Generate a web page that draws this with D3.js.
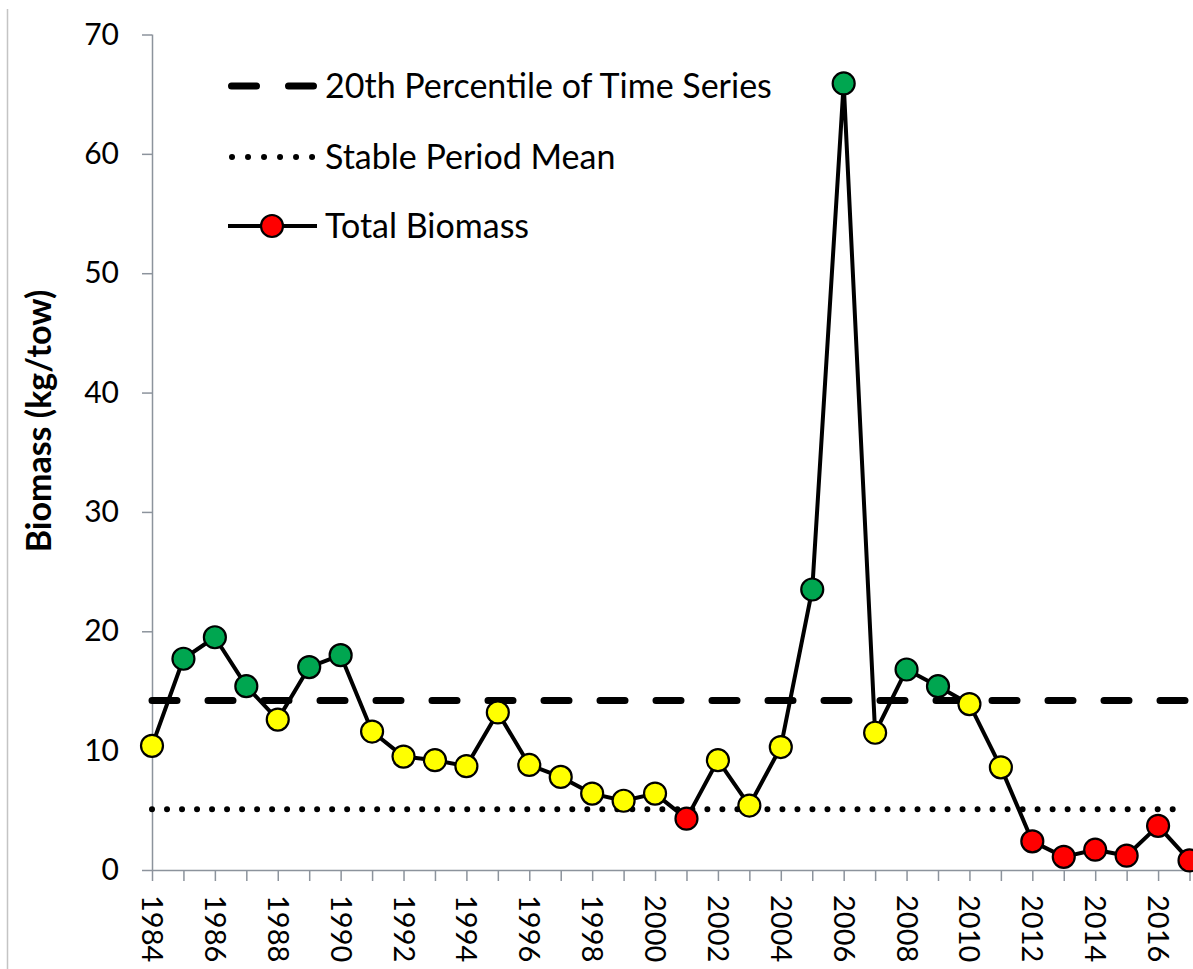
<!DOCTYPE html>
<html>
<head>
<meta charset="utf-8">
<script src="https://cdn.jsdelivr.net/npm/d3@7"></script>
<style>
  body { margin: 0; background: #fff; }
  text { font-family: Lato, "Liberation Sans", sans-serif; fill: #000; }
</style>
</head>
<body>
<svg id="chart"></svg>
<script>
// data
const years = [1984, 1985, 1986, 1987, 1988, 1989, 1990, 1991, 1992, 1993,
    1994, 1995, 1996, 1997, 1998, 1999, 2000, 2001, 2002, 2003,
    2004, 2005, 2006, 2007, 2008, 2009, 2010, 2011, 2012, 2013,
    2014, 2015, 2016, 2017];
const biomass = [10.4, 17.7, 19.5, 15.4, 12.6, 17.0, 18.0, 11.6, 9.5, 9.2,
    8.7, 13.2, 8.8, 7.8, 6.4, 5.8, 6.4, 4.3, 9.2, 5.4,
    10.3, 23.5, 65.9, 11.5, 16.8, 15.4, 13.9, 8.6, 2.4, 1.1,
    1.7, 1.2, 3.7, 0.8];
const percentile20 = 14.2;   // 20th percentile of time series
const stableMean = 5.1;      // stable period mean
const yTicks = [0, 10, 20, 30, 40, 50, 60, 70];
const legendLabels = ['20th Percentile of Time Series', 'Stable Period Mean', 'Total Biomass'];

const W = 1193, H = 969;
let margin = {top: 34.5, left: 152, bottom: 99};
let plotRight = 152 + 33 * 31.44;

let svg = d3.select('#chart')
    .attr('width', W)
    .attr('height', H);

// chart area border on the left
svg.append('line')
    .attr('x1', 7.5).attr('x2', 7.5)
    .attr('y1', 9).attr('y2', H)
    .attr('stroke', '#c4c4c4')
    .attr('stroke-width', 1.5);

let x = d3.scalePoint()
    .domain(years)
    .range([margin.left, plotRight]);
let y = d3.scaleLinear()
    .domain([0, 70])
    .range([H - margin.bottom, margin.top]);

// status colour: above the percentile green, below the mean red
function statusColor(v) {
    if (v > percentile20) return '#00a650';
    if (v < stableMean) return '#ff0000';
    return '#ffff00';
}

// y axis
let yAxis = svg.append('g')
    .attr('transform', 'translate(' + margin.left + ',0)')
    .call(d3.axisLeft(y).tickValues(yTicks).tickSize(10).tickPadding(23));
yAxis.selectAll('text')
    .attr('font-size', '30px')
    .style('font-family', 'Lato, sans-serif');

// x axis, ticks every year, labels every other year
let xAxis = svg.append('g')
    .attr('transform', 'translate(0,' + y(0) + ')')
    .call(d3.axisBottom(x).tickSize(11).tickFormat(function(d) {
        return d % 2 === 0 ? d : '';
    }));
xAxis.selectAll('text')
    .attr('font-size', '29px')
    .style('font-family', 'Lato, sans-serif')
    .attr('transform', 'rotate(90)')
    .attr('x', 25)
    .attr('y', 0)
    .attr('dy', '0.36em')
    .attr('text-anchor', 'start');

svg.selectAll('.domain, .tick line')
    .attr('stroke', '#8c939c')
    .attr('stroke-width', 1.5);
xAxis.select('.domain').attr('d', 'M' + margin.left + ',0.5H' + W);
yAxis.select('.domain').attr('d', 'M0.5,' + y(70) + 'V' + y(0));

// y axis title
svg.append('text')
    .attr('transform', 'translate(51,' + 421 + ')rotate(-90)')
    .attr('text-anchor', 'middle')
    .attr('font-size', '34px')
    .attr('font-weight', 'bold')
    .text('Biomass (kg/tow)');

// reference lines
svg.append('line')
    .attr('x1', x(years[0])).attr('x2', W)
    .attr('y1', y(percentile20)).attr('y2', y(percentile20))
    .attr('stroke', '#000')
    .attr('stroke-width', 7)
    .attr('stroke-linecap', 'round')
    .attr('stroke-dasharray', '25,31');

svg.append('line')
    .attr('x1', x(years[0])).attr('x2', x(2016) + 18)
    .attr('y1', y(stableMean)).attr('y2', y(stableMean))
    .attr('stroke', '#000')
    .attr('stroke-width', 6)
    .attr('stroke-linecap', 'round')
    .attr('stroke-dasharray', '0.01,15');

// total biomass series
let series = years.map(function(d, i) { return {year: d, value: biomass[i]}; });

svg.append('path')
    .datum(series)
    .attr('fill', 'none')
    .attr('stroke', '#000')
    .attr('stroke-width', 4)
    .attr('stroke-linejoin', 'round')
    .attr('d', d3.line()
        .x(function(d) { return x(d.year); })
        .y(function(d) { return y(d.value); }));

svg.selectAll('circle.pt')
    .data(series)
    .enter()
    .append('circle')
    .attr('class', 'pt')
    .attr('cx', function(d) { return x(d.year); })
    .attr('cy', function(d) { return y(d.value); })
    .attr('r', 11)
    .attr('fill', function(d) { return statusColor(d.value); })
    .attr('stroke', '#000')
    .attr('stroke-width', 2.2);

// legend
let legend = svg.append('g');
let legendY = [86, 157, 226];
let lx0 = 228, lx1 = 317;

legend.append('line')
    .attr('x1', lx0 + 3.5).attr('x2', lx1 - 3.5)
    .attr('y1', legendY[0]).attr('y2', legendY[0])
    .attr('stroke', '#000').attr('stroke-width', 7)
    .attr('stroke-linecap', 'round')
    .attr('stroke-dasharray', '25,32');

legend.append('line')
    .attr('x1', lx0 + 4).attr('x2', lx1)
    .attr('y1', legendY[1]).attr('y2', legendY[1])
    .attr('stroke', '#000').attr('stroke-width', 6)
    .attr('stroke-linecap', 'round')
    .attr('stroke-dasharray', '0.01,16');

legend.append('line')
    .attr('x1', lx0).attr('x2', lx1)
    .attr('y1', legendY[2]).attr('y2', legendY[2])
    .attr('stroke', '#000').attr('stroke-width', 4);
legend.append('circle')
    .attr('cx', (lx0 + lx1) / 2 - 0.5).attr('cy', legendY[2])
    .attr('r', 11)
    .attr('fill', '#ff0000')
    .attr('stroke', '#000').attr('stroke-width', 2.2);

legend.selectAll('text')
    .data(legendLabels)
    .enter()
    .append('text')
    .attr('x', 325)
    .attr('y', function(d, i) { return legendY[i]; })
    .attr('dy', '0.35em')
    .attr('font-size', '34px')
    .text(function(d) { return d; });
</script>
</body>
</html>
